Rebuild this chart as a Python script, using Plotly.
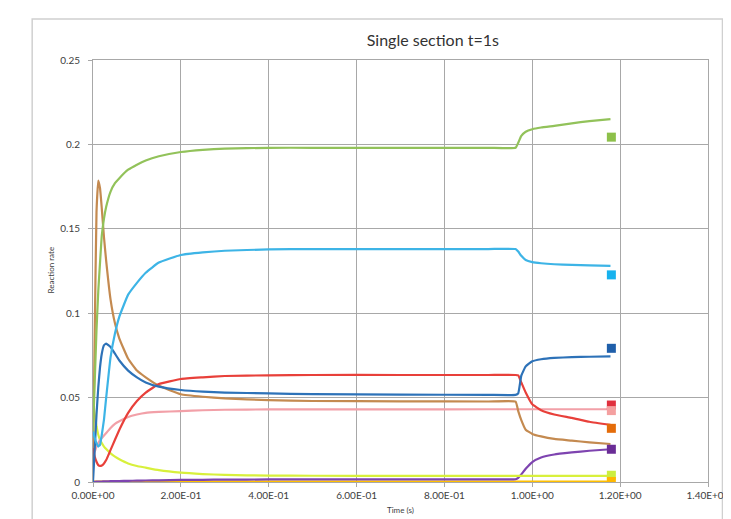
import plotly.graph_objects as go

# ---- data ----
time = [0, 0.004, 0.008, 0.012, 0.016, 0.02, 0.025, 0.03, 0.04, 0.05, 0.06, 0.08,
        0.1, 0.12, 0.15, 0.2, 0.25, 0.3, 0.4, 0.5, 0.7, 0.9, 0.962, 0.968, 0.975,
        0.985, 1.0, 1.02, 1.05, 1.09, 1.13, 1.178]

green = [0.03, 0.06, 0.09, 0.113, 0.13, 0.146, 0.156, 0.163, 0.172, 0.177, 0.18, 0.185,
         0.188, 0.1905, 0.193, 0.1955, 0.1968, 0.1975, 0.198, 0.198, 0.198, 0.198, 0.198, 0.201, 0.205,
         0.2075, 0.209, 0.21, 0.211, 0.2125, 0.2138, 0.215]

cyan = [0.03, 0.026, 0.023, 0.021, 0.022, 0.028, 0.037, 0.05, 0.074, 0.088, 0.098, 0.111,
        0.118, 0.124, 0.13, 0.1345, 0.136, 0.137, 0.1378, 0.138, 0.138, 0.138, 0.138, 0.1365, 0.134,
        0.1315, 0.1303, 0.1296, 0.129, 0.1286, 0.1283, 0.128]

darkblue = [0.0, 0.02, 0.04, 0.056, 0.068, 0.076, 0.081, 0.082, 0.08, 0.076, 0.072, 0.066,
            0.062, 0.059, 0.0565, 0.0545, 0.0535, 0.053, 0.0525, 0.052, 0.0518, 0.0516, 0.0516, 0.0525, 0.063,
            0.0685, 0.0715, 0.0727, 0.0735, 0.074, 0.0742, 0.0744]

red = [0.02, 0.015, 0.012, 0.010, 0.0095, 0.0098, 0.011, 0.013, 0.019, 0.025, 0.031, 0.041,
       0.048, 0.053, 0.058, 0.061, 0.062, 0.0628, 0.0632, 0.0634, 0.0634, 0.0634, 0.0634, 0.0632, 0.059,
       0.053, 0.046, 0.0425, 0.04, 0.038, 0.0357, 0.0338]

brown = [0.01, 0.09, 0.16, 0.1785, 0.174, 0.162, 0.145, 0.131, 0.108, 0.094, 0.085, 0.073,
         0.066, 0.062, 0.057, 0.052, 0.0505, 0.0495, 0.0485, 0.048, 0.0478, 0.0477, 0.0476, 0.042, 0.0367,
         0.031, 0.0285, 0.027, 0.0255, 0.0245, 0.0235, 0.0225]

pink = [0.015, 0.018, 0.021, 0.023, 0.025, 0.026, 0.0275, 0.029, 0.032, 0.0345, 0.036, 0.0385,
        0.04, 0.041, 0.0415, 0.042, 0.0425, 0.0428, 0.043, 0.043, 0.043, 0.0431, 0.0431, 0.0431, 0.0431,
        0.0431, 0.0431, 0.0431, 0.0431, 0.0431, 0.0431, 0.0431]

yellowgreen = [0.048, 0.04, 0.033, 0.028, 0.025, 0.023, 0.021, 0.0195, 0.017, 0.015, 0.0135, 0.011,
               0.0095, 0.0085, 0.007, 0.0055, 0.0047, 0.0042, 0.0038, 0.0037, 0.0036, 0.0036, 0.0036, 0.0036, 0.0036,
               0.0036, 0.0036, 0.0036, 0.0036, 0.0036, 0.0036, 0.0036]

purple = [0.0, 0.0001, 0.0002, 0.0002, 0.0003, 0.0003, 0.0004, 0.0004, 0.0005, 0.0005, 0.0006, 0.0007,
          0.0008, 0.0009, 0.001, 0.0012, 0.0013, 0.0014, 0.0015, 0.0016, 0.0016, 0.0016, 0.0016, 0.0025, 0.0045,
          0.0078, 0.0118, 0.0145, 0.0163, 0.0175, 0.0185, 0.0194]

gold = [0.0003] * len(time)

# experimental points (squares)
point_time = [1.18, 1.18, 1.18, 1.18, 1.18, 1.18, 1.18, 1.18, 1.18]
point_values = [0.2043, 0.1227, 0.0792, 0.0456, 0.0423, 0.0318, 0.0194, 0.004, 0.0003]
point_colors = ['#8DC04A', '#17B2EE', '#1F5FAA', '#E0303E', '#F4A0A0', '#E46C0A', '#6A2C96', '#CCEE40', '#FFB800']

x_tickvals = [0, 0.2, 0.4, 0.6, 0.8, 1.0, 1.2, 1.4]
x_ticktext = ['0.00E+00', '2.00E-01', '4.00E-01', '6.00E-01', '8.00E-01', '1.00E+00', '1.20E+00', '1.40E+00']
y_tickvals = [0, 0.05, 0.1, 0.15, 0.2, 0.25]
y_ticktext = ['0', '0.05', '0.1', '0.15', '0.2', '0.25']

series = [
    (gold, '#FFC000'),
    (purple, '#7E44B0'),
    (yellowgreen, '#D8F03C'),
    (pink, '#F2A0A8'),
    (brown, '#C48A50'),
    (red, '#E8403A'),
    (darkblue, '#2D72B8'),
    (cyan, '#3DB4E6'),
    (green, '#92C25A'),
]

fig = go.Figure()
for vals, col in series:
    fig.add_trace(go.Scatter(x=time, y=vals, mode='lines',
                             line=dict(color=col, width=2.2, shape='spline', smoothing=0.35),
                             showlegend=False, hoverinfo='skip'))

for tx, ty, col in zip(point_time, point_values, point_colors):
    fig.add_trace(go.Scatter(x=[tx], y=[ty], mode='markers',
                             marker=dict(symbol='square', size=9, color=col),
                             showlegend=False, hoverinfo='skip'))

# the page body has an 8px margin: the figure is sized so it ends at the window edge
OFF = 8
W, H = 731 - OFF, 519 - OFF
L, R, T, B = 93 - OFF, 1, 60 - OFF, 37
pw, ph = W - L - R, H - T - B

def px_to_paper_x(px):  # px in page (window) coordinates
    return (px - OFF - L) / pw

def px_to_paper_y(py):
    return (H - B - (py - OFF)) / ph

grid_col = '#A8A8A8'
tick_font = dict(family='Lato, Open Sans, sans-serif', size=10, color='#404040')

fig.update_layout(
    width=W, height=H,
    margin=dict(l=L, r=R, t=T, b=B),
    paper_bgcolor='white', plot_bgcolor='white',
    xaxis=dict(range=[0, 1.4], tickvals=x_tickvals, ticktext=x_ticktext,
               showgrid=True, gridcolor=grid_col, gridwidth=1,
               showline=True, linecolor=grid_col, linewidth=1, mirror=True,
               ticks='outside', ticklen=4, tickcolor=grid_col,
               tickfont=tick_font, zeroline=False, ticklabeloverflow='allow'),
    yaxis=dict(range=[0, 0.25], tickvals=y_tickvals, ticktext=y_ticktext,
               showgrid=True, gridcolor=grid_col, gridwidth=1,
               showline=True, linecolor=grid_col, linewidth=1, mirror=True,
               ticks='outside', ticklen=4, tickcolor=grid_col,
               tickfont=tick_font, zeroline=False, ticklabelstandoff=6),
    title=dict(text='Single section t=1s', x=px_to_paper_x(445), xref='paper', xanchor='center',
               y=1 - (40 - OFF) / H, yref='container', yanchor='middle',
               font=dict(family='Lato, Open Sans, sans-serif', size=16, color='#333333')),
)

fig.add_annotation(text='Reaction rate', textangle=-90, showarrow=False,
                   xref='paper', yref='paper', x=px_to_paper_x(50), y=px_to_paper_y(270),
                   xanchor='center', yanchor='middle',
                   font=dict(family='Lato, Open Sans, sans-serif', size=8, color='#404040'))
fig.add_annotation(text='Time (s)', showarrow=False,
                   xref='paper', yref='paper', x=px_to_paper_x(411), y=px_to_paper_y(510),
                   xanchor='center', yanchor='middle',
                   font=dict(family='Lato, Open Sans, sans-serif', size=8, color='#404040'))

# outer chart frame (cropped chart border)
fig.add_shape(type='rect', xref='paper', yref='paper',
              x0=px_to_paper_x(30), x1=px_to_paper_x(745),
              y0=px_to_paper_y(540), y1=px_to_paper_y(19),
              line=dict(color='#D0D0D0', width=1.5), layer='below')

fig.write_html('out.html')
